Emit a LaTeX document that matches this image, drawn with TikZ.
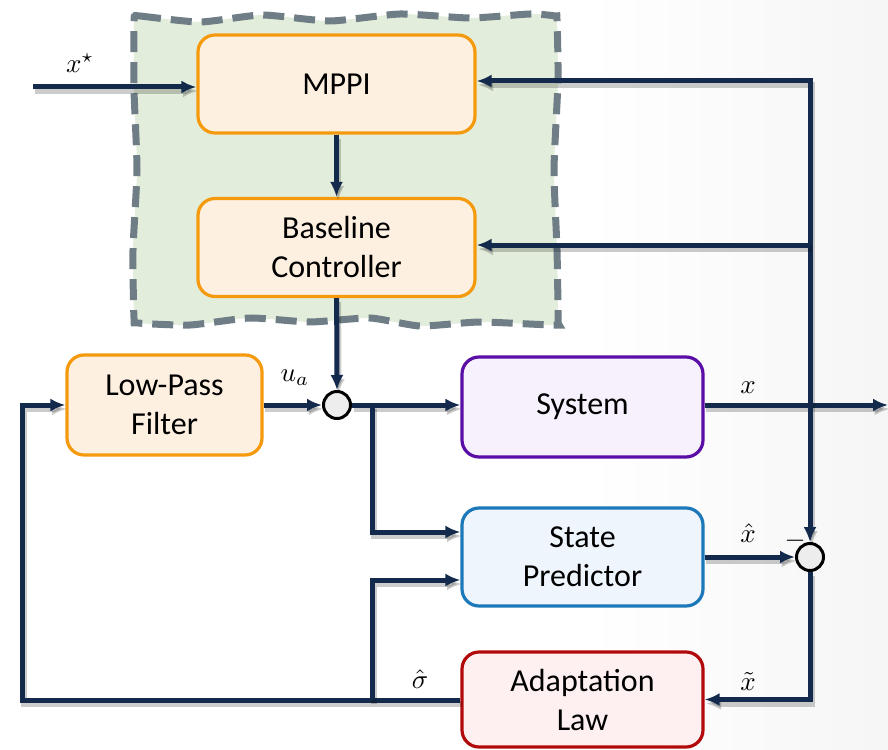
\documentclass[tikz,border=0pt]{standalone}
\usepackage{graphicx}
\usepackage{fontspec}
\setmainfont{Carlito}
\usetikzlibrary{arrows.meta,calc}

\definecolor{navy}{HTML}{142A4C}
\definecolor{groupfill}{HTML}{E3EDDB}
\definecolor{groupedge}{HTML}{6F7E86}
\definecolor{orangeedge}{HTML}{F59A0C}
\definecolor{orangefill}{HTML}{FDF0E1}
\definecolor{purpleedge}{HTML}{5A0EA6}
\definecolor{purplefill}{HTML}{F7F0FD}
\definecolor{blueedge}{HTML}{1C78B8}
\definecolor{bluefill}{HTML}{EEF5FD}
\definecolor{rededge}{HTML}{B20A0A}
\definecolor{redfill}{HTML}{FEF0F0}

\pgfdeclarehorizontalshading{bgshade}{100bp}{color(0bp)=(white); color(58bp)=(white); color(100bp)=(black!9)}

% math label enlarged to the size of the block texts
\newcommand{\biglbl}[1]{\scalebox{2.7}{$#1$}}

\begin{document}
\begin{tikzpicture}[x=1pt,y=-1pt,
  block/.style={draw, line width=3.2pt, rounded corners=17pt, align=center,
    font=\fontsize{32}{39}\selectfont, inner sep=0pt},
  orangeblock/.style={block, draw=orangeedge, fill=orangefill, minimum width=277pt, minimum height=98pt},
  sumnode/.style={circle, draw=black, line width=3pt, fill=black!7, minimum size=27pt, inner sep=0pt},
  conn/.style={navy, line width=5pt, -{Latex[length=15pt,width=13pt]},
    preaction={draw=black, opacity=0.2, line width=6pt, transform canvas={shift={(1.5pt,-4pt)}}}},
  lbl/.style={inner sep=0pt}]

% page background
\useasboundingbox (0,0) rectangle (888,749);
\shade[shading=bgshade] (0,0) rectangle (888,749);

% planner group with a wavy dashed outline
\draw[groupedge, fill=groupfill, line width=7pt, dash pattern=on 21pt off 10pt]
  plot[smooth cycle, tension=0.35] coordinates {
    (135,16) (140,16) (200,22) (262,15) (330,21) (400,14) (470,18) (530,14) (555,16) (557,20)
    (558,80) (554,170) (557,250) (558,320) (555,325) (480,322) (420,326) (370,318)
    (310,322) (250,318) (190,325) (138,323) (134,318) (133,250) (137,170) (134,90) (134,22)};

% blocks
\node[orangeblock] (mppi) at (336.5,84) {MPPI};
\node[orangeblock] (base) at (336.5,247.5) {Baseline\\Controller};
\node[block, draw=orangeedge, fill=orangefill, minimum width=195pt, minimum height=100pt]
  (lpf) at (164.5,405) {Low-Pass\\Filter};
\node[block, draw=purpleedge, fill=purplefill, minimum width=241pt, minimum height=100pt]
  (sys) at (582.5,407) {System};
\node[block, draw=blueedge, fill=bluefill, minimum width=241pt, minimum height=98pt]
  (pred) at (582.5,557) {State\\Predictor};
\node[block, draw=rededge, fill=redfill, minimum width=241pt, minimum height=95pt]
  (adapt) at (582.5,699.5) {Adaptation\\Law};

\node[sumnode] (s1) at (337,405) {};
\node[sumnode] (s2) at (810,557) {};

% branch points and free ends
\coordinate (in) at (33,87);
\coordinate (out) at (888,405);
\coordinate (tapx) at (810,405);
\coordinate (tapu) at (372,405);
\coordinate (tapsig) at (372,700);
\coordinate (left) at (22,700);

% reference input
\draw[conn] (in) -- (mppi.west |- in);
\node[lbl] at (80,63) {\biglbl{x^\star}};

% controller chain
\draw[conn] (mppi) -- (base);
\draw[conn] (base) -- (s1);
\draw[conn] (lpf.east |- s1) -- (s1);
\node[lbl] at (295,378) {\biglbl{u_a}};
\draw[conn] (s1) -- (sys.west |- s1);
\draw[conn] (tapu) -- (372,532) -- (pred.west |- 0,532);

% plant output and state feedback
\draw[conn] (sys.east |- out) -- (out);
\node[lbl] at (748,388) {\biglbl{x}};
\draw[conn] (tapx) -- (810,81) -- (mppi.east |- 0,81);
\draw[conn] (810,245) -- (base.east |- 0,245);
\draw[conn] (tapx) -- (s2);
\node[lbl] at (795,541) {\biglbl{-}};

% predictor error loop
\draw[conn] (pred.east |- s2) -- (s2);
\node[lbl] at (748,533) {\biglbl{\hat{x}}};
\draw[conn] (s2) -- (s2 |- adapt.east) -- (adapt.east);
\node[lbl] at (748,681) {\biglbl{\tilde{x}}};

% adaptive estimate back to filter and predictor
\draw[conn] (adapt.west |- tapsig) -- (left) -- (left |- lpf.west) -- (lpf.west);
\draw[conn] (tapsig) -- (372,580) -- (pred.west |- 0,580);
\node[lbl] at (420,679) {\biglbl{\hat{\sigma}}};

\end{tikzpicture}
\end{document}
